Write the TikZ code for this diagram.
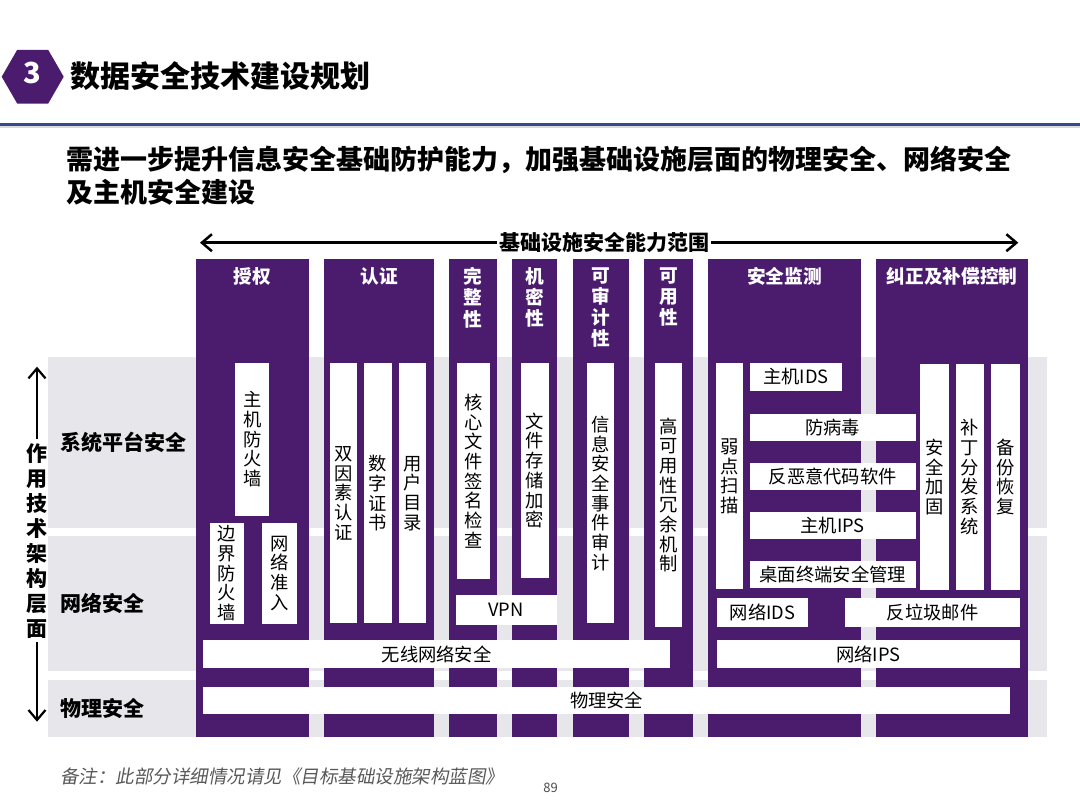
\documentclass[tikz,border=0pt]{standalone}
\usepackage{fontspec}
\setmainfont{Noto Sans CJK SC}
\newfontfamily\notefont[FakeSlant=0.18]{Noto Sans CJK SC}
\usetikzlibrary{positioning, arrows.meta, shapes.geometric}

\definecolor{secpurple}{RGB}{75,27,110}
\definecolor{bandgray}{RGB}{231,230,235}
\definecolor{rulenavy}{RGB}{58,72,140}

\newcommand\titlefont{\fontsize{30}{30}\selectfont\bfseries}
\newcommand\subfont{\fontsize{27}{32.5}\selectfont\bfseries}
\newcommand\headfont{\fontsize{18.7}{21.3}\selectfont\bfseries}
\newcommand\boxfont{\fontsize{18.3}{19.7}\selectfont}
\newcommand\rowfont{\fontsize{21}{25}\selectfont\bfseries}

\begin{document}
\begin{tikzpicture}[
    x=1pt, y=-1pt,                    % <── one unit per pixel, y downwards
    col/.style={fill=secpurple, minimum width=#1, minimum height=477.2, inner sep=0},
    colhead/.style={text=white, font=\headfont, align=center, inner sep=0},
    wbox/.style 2 args={fill=white, minimum width=#1, minimum height=#2, inner sep=0, align=center, font=\boxfont},
    rowlbl/.style={anchor=west, inner sep=0, font=\rowfont},
    hexbadge/.style={regular polygon, regular polygon sides=6, minimum size=62, fill=secpurple, inner sep=0},
    spanarrow/.style={line width=2.5pt, -{Straight Barb[length=10pt, width=17pt]}}
    ]
    \fill[white] (0,0) rectangle (1080,810);
    \useasboundingbox (0,0) rectangle (1080,810);

    % Header
    \node[hexbadge] (badge) at (32.7,76.7) {};
    \node[text=white, font=\fontsize{29}{29}\selectfont\bfseries, inner sep=0] (badgenum) at ([yshift=4pt]badge.center) {3};
    \node[anchor=west, inner sep=0, font=\titlefont] (title) at (70.7,76) {数据安全技术建设规划};
    \draw[line width=2pt, black!15] (0,127.3) -- (1080,127.3);
    \draw[line width=3pt, rulenavy] (0,124.3) -- (1080,124.3);

    \node[anchor=west, inner sep=0, font=\subfont] (sub1) at (66,160) {需进一步提升信息安全基础防护能力，加强基础设施层面的物理安全、网络安全};
    \node[anchor=west, inner sep=0, font=\subfont] (sub2) at (66,192.5) {及主机安全建设};

    % Layer bands
    \fill[bandgray] (48,356.7) rectangle (1047,528.3);
    \fill[bandgray] (48,536) rectangle (1047,670.7);
    \fill[bandgray] (48,680) rectangle (1047,736.5);

    % Capability columns
    \node[col=113.5] (cSQ) at (252.25,497.9) {};
    \node[col=110]   (cRZ) at (379,497.9) {};
    \node[col=47.2]  (cWZ) at (473,497.9) {};
    \node[col=45.2]  (cJM) at (534.6,497.9) {};
    \node[col=55.1]  (cSJ) at (600.95,497.9) {};
    \node[col=49.2]  (cKY) at (668.6,497.9) {};
    \node[col=153.3] (cJC) at (784.65,497.9) {};
    \node[col=152.3] (cJZ) at (952.15,497.9) {};

    \node[colhead, below=8pt of cSQ.north] (hSQ) {授权};
    \node[colhead, below=8pt of cRZ.north] (hRZ) {认证};
    \node[colhead, below=8pt of cWZ.north] (hWZ) {完\\整\\性};
    \node[colhead, below=8pt of cJM.north] (hJM) {机\\密\\性};
    \node[colhead, below=8pt of cSJ.north] (hSJ) {可\\审\\计\\性};
    \node[colhead, below=8pt of cKY.north] (hKY) {可\\用\\性};
    \node[colhead, below=8pt of cJC.north] (hJC) {安全监测};
    \node[colhead, below=8pt of cJZ.north] (hJZ) {纠正及补偿控制};

    % Measures
    \node[wbox={34.1}{153}]   (zjfhq) at (252.25,439.2) {主\\机\\防\\火\\墙};
    \node[wbox={33.8}{101.3}] (bjfhq) at (226.9,573.35) {边\\界\\防\\火\\墙};
    \node[wbox={34.4}{101.3}] (wlzr)  at (279.6,573.35) {网\\络\\准\\入};
    \node[wbox={27.6}{260}]   (syrz)  at (343.3,493.3) {双\\因\\素\\认\\证};
    \node[wbox={27.5}{260}]   (szzs)  at (377.75,493.3) {数\\字\\证\\书};
    \node[wbox={27.5}{260}]   (yhml)  at (412.55,493.3) {用\\户\\目\\录};
    \node[wbox={32.4}{215.7}] (hxwj)  at (473.5,471.15) {核\\心\\文\\件\\签\\名\\检\\查};
    \node[wbox={28.3}{214.4}] (wjcc)  at (534.85,470.5) {文\\件\\存\\储\\加\\密};
    \node[wbox={101}{30}]     (vpn)   at (506,610) {VPN};
    \node[wbox={26.8}{260}]   (xxsj)  at (600.6,493.3) {信\\息\\安\\全\\事\\件\\审\\计};
    \node[wbox={27.5}{263.4}] (gky)   at (668.45,495) {高\\可\\用\\性\\冗\\余\\机\\制};
    \node[wbox={466.8}{28.3}] (wxwl)  at (436.6,654.15) {无线网络安全};

    \node[wbox={26.9}{226}]   (rdsm)  at (729.75,476.3) {弱\\点\\扫\\描};
    \node[wbox={92}{27.4}]    (zjids) at (796,377) {主机IDS};
    \node[wbox={165.5}{26.7}] (fbd)   at (832.75,427.65) {防病毒};
    \node[wbox={165.5}{26.7}] (fey)   at (832.75,476.65) {反恶意代码软件};
    \node[wbox={165.5}{26.7}] (zjips) at (832.75,525.5) {主机IPS};
    \node[wbox={165.5}{26.7}] (zmzd)  at (832.75,574.35) {桌面终端安全管理};
    \node[wbox={29.3}{225.7}] (aqjg)  at (934.45,477.15) {安\\全\\加\\固};
    \node[wbox={28.2}{225.7}] (bdff)  at (970.1,477.15) {补\\丁\\分\\发\\系\\统};
    \node[wbox={28.6}{225.7}] (bfhf)  at (1005.4,477.15) {备\\份\\恢\\复};
    \node[wbox={91.7}{28.4}]  (wlids) at (762.45,612.5) {网络IDS};
    \node[wbox={174.8}{28.4}] (flj)   at (932.6,612.5) {反垃圾邮件};
    \node[wbox={303.4}{28.3}] (wlips) at (868.3,654.15) {网络IPS};
    \node[wbox={806.8}{27.6}] (wlaq)  at (606.6,700.5) {物理安全};

    % Row labels
    \node[rowlbl] (rowSys) at (60,442.7) {系统平台安全};
    \node[rowlbl] (rowNet) at (60,603.3) {网络安全};
    \node[rowlbl] (rowPhy) at (60,708.3) {物理安全};

    % Axes
    \node[inner sep=2pt, font=\fontsize{21}{21}\selectfont\bfseries] (scope) at (604,242.7) {基础设施安全能力范围};
    \coordinate (scopeL) at (200,242.7);
    \coordinate (scopeR) at (1018.3,242.7);
    \draw[spanarrow] (scope) -- (scopeL);
    \draw[spanarrow] (scope) -- (scopeR);

    \node[inner sep=4pt, align=center, font=\rowfont] (axis) at (37,540.8) {作\\用\\技\\术\\架\\构\\层\\面};
    \coordinate (axisT) at (37,366.7);
    \coordinate (axisB) at (37,721.7);
    \draw[spanarrow, line width=2.2pt] (axis) -- (axisT);
    \draw[spanarrow, line width=2.2pt] (axis) -- (axisB);

    % Footer
    \node[anchor=west, inner sep=0, text=black!65, font=\notefont\fontsize{18.5}{18.5}\selectfont] (note) at (60,776.7) {备注：此部分详细情况请见《目标基础设施架构蓝图》};
    \node[inner sep=0, text=black!70, font=\fontsize{13}{13}\selectfont] (pagenum) at (550.7,788.3) {89};
\end{tikzpicture}
\end{document}
